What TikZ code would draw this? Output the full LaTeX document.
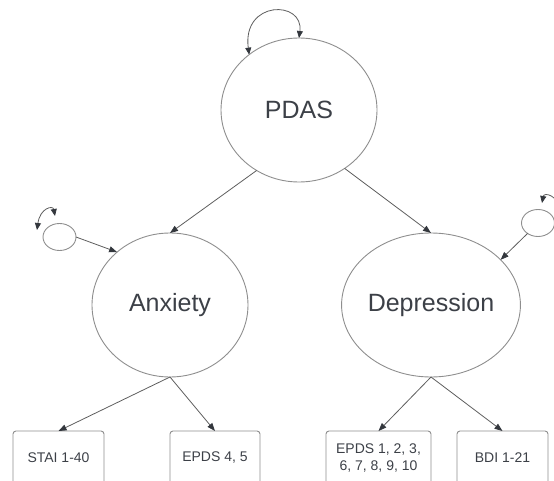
\documentclass[tikz,border=0pt]{standalone}
\usepackage{fontspec}
\setmainfont{Liberation Sans}
\usetikzlibrary{shapes.geometric,arrows.meta}
\definecolor{txtgray}{HTML}{3C4047}
\definecolor{linegray}{HTML}{8E8E8E}
\definecolor{arrowgray}{HTML}{5E5E5E}
\definecolor{tipgray}{HTML}{33373D}

\begin{document}
\begin{tikzpicture}[x=1pt,y=-1pt,inner sep=0pt,outer sep=0pt,
	latent/.style={ellipse, draw=linegray, line width=0.9pt, minimum width=156pt, minimum height=144pt, font=\fontsize{25}{30}\selectfont, text=txtgray},
	errvar/.style={ellipse, draw=linegray, line width=0.9pt, minimum width=33pt, minimum height=27pt},
	indicator/.style={rectangle, rounded corners=3pt, draw=linegray, line width=0.9pt, minimum height=54pt, align=center, font=\fontsize{14}{17}\selectfont, text=txtgray},
	link/.style={draw=arrowgray, line width=0.8pt, -{Triangle[length=8pt,width=6pt,color=tipgray]}},
	selfvar/.style={draw=arrowgray, line width=0.8pt, {Triangle[length=7pt,width=6pt,color=tipgray]}-{Triangle[length=7pt,width=6pt,color=tipgray]}}]
	\useasboundingbox (0,0) rectangle (554,481);
	\clip (0,0) rectangle (554,481);
	
	\node[latent] at (299,110) (pdas) {PDAS};
	\node[latent] at (170,305) (anx) {Anxiety};
	\node[latent] at (431,305) (dep) {Depression};
	
	\node[errvar] at (59.5,237) (e_anx) {};
	\node[errvar] at (538,223) (e_dep) {};
	
	\node[indicator, minimum width=91pt] at (58.5,458) (stai) {STAI 1-40};
	\node[indicator, minimum width=90pt] at (215,458) (epds_a) {EPDS 4, 5};
	\node[indicator, minimum width=105pt] at (378.5,458) (epds_d) {EPDS 1, 2, 3,\\6, 7, 8, 9, 10};
	\node[indicator, minimum width=91pt] at (502.5,458) (bdi) {BDI 1-21};
	
	\coordinate (l_anx1) at (37,230);
	\coordinate (l_anx2) at (55,216);
	\coordinate (l_dep1) at (542,203);
	\coordinate (l_dep2) at (561,217);
	
	\draw[selfvar] (pdas.132) .. controls (242,0) and (304,0) .. (pdas.90);
	\draw[selfvar] (l_anx1) .. controls (40,208) and (53,205) .. (l_anx2);
	\draw[selfvar] (l_dep1) .. controls (544,192) and (558,195) .. (l_dep2);
	
	\draw[link] (pdas.235)--(anx.north);
	\draw[link] (pdas.308)--(dep.north);
	
	\draw[link] (e_anx.east)--(anx.135);
	\draw[link] (e_dep.225)--(dep.33);
	
	\draw[link] (anx.south)--(stai.north);
	\draw[link] (anx.south)--(epds_a.north);
	\draw[link] (dep.south)--(epds_d.north);
	\draw[link] (dep.south)--(bdi.north);
\end{tikzpicture}
\end{document}
